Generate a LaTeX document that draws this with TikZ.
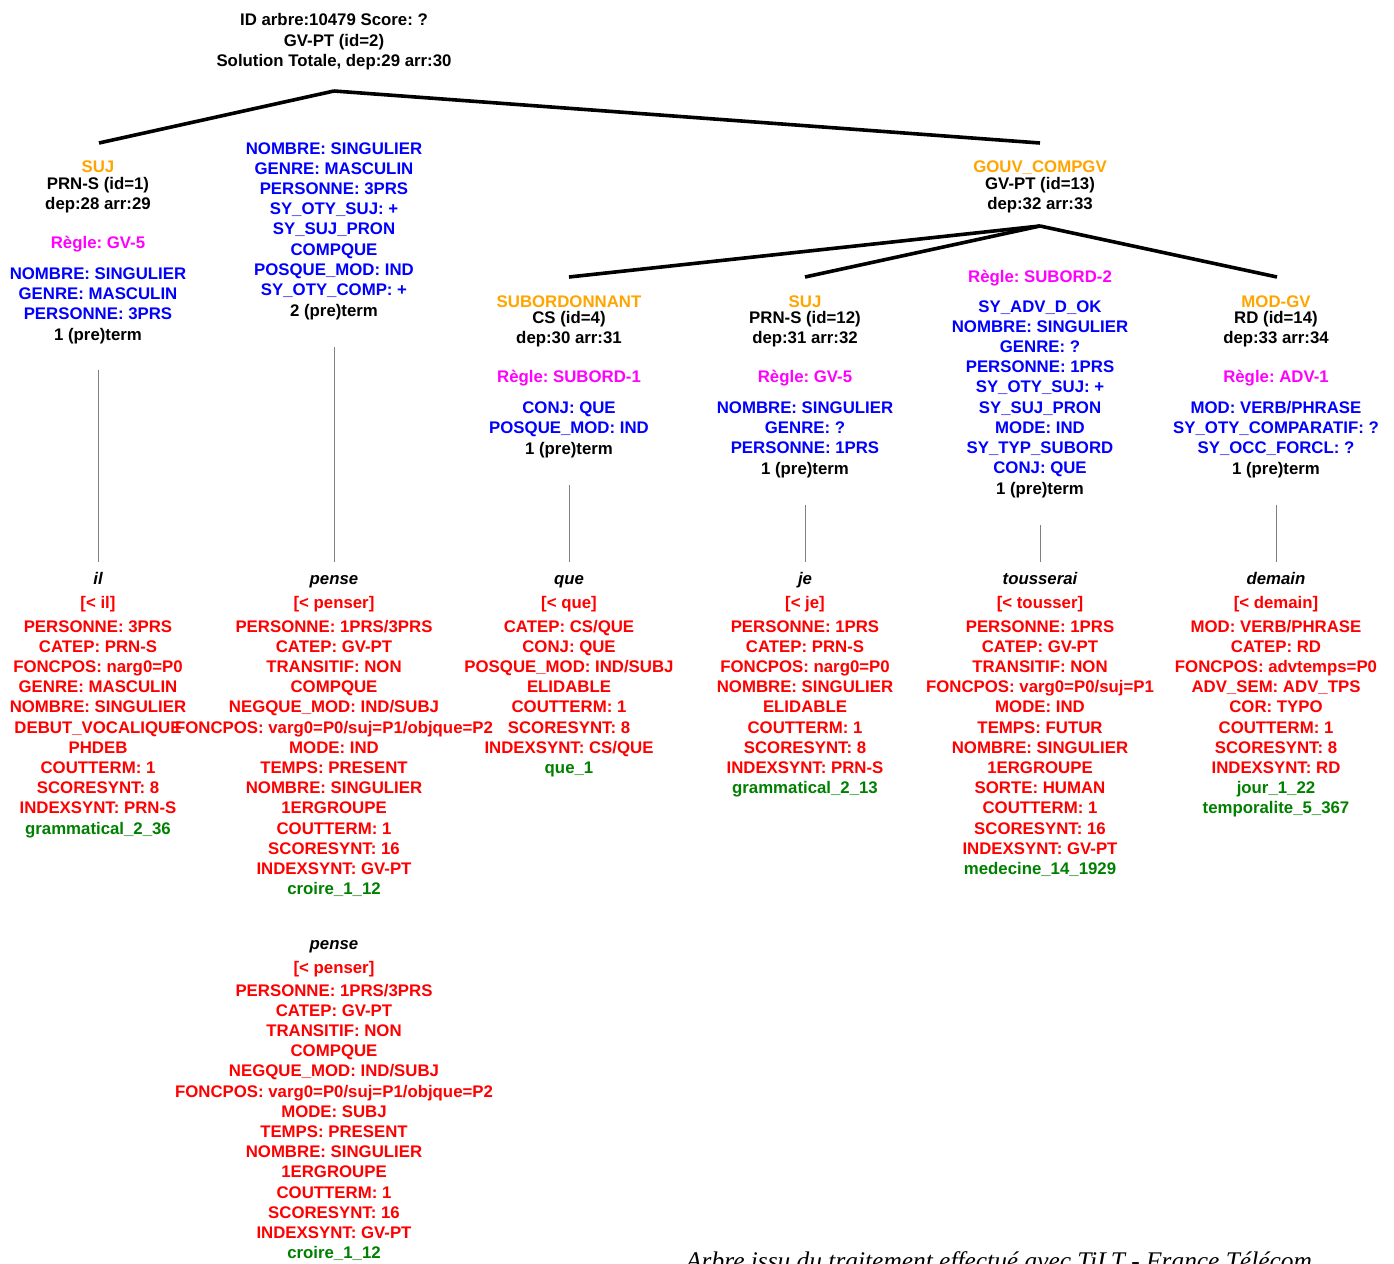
\documentclass[tikz,border=0pt]{standalone}
\usepackage{fontspec}
\setmainfont{Liberation Sans}
\newfontfamily\capfont{Liberation Serif}
\frenchspacing
\definecolor{orangeC}{RGB}{255,165,0}
\definecolor{magC}{RGB}{255,0,255}
\definecolor{blueC}{RGB}{0,0,255}
\definecolor{redC}{RGB}{255,0,0}
\definecolor{greenC}{RGB}{0,128,0}
\definecolor{grayC}{RGB}{128,128,128}
\tikzset{
  txt/.style={font=\fontsize{16.8}{20}\selectfont\bfseries\frenchspacing, inner sep=0pt, anchor=base},
  tblack/.style={txt, text=black},
  torange/.style={txt, text=orangeC},
  tmag/.style={txt, text=magC},
  tblue/.style={txt, text=blueC},
  tred/.style={txt, text=redC},
  tgreen/.style={txt, text=greenC},
  tword/.style={txt, font=\fontsize{16.8}{20}\selectfont\bfseries\itshape, text=black},
  treeline/.style={line width=3.6pt, black},
  gline/.style={line width=1pt, grayC},
}
% name, x, center y of first line, style, list
\newcommand\mylines[5]{\foreach \ltxt [count=\i from 0] in {#5} {\node[#4] (#1-\i) at (#2, #3+6+\i*20.2) {\ltxt};}}
\begin{document}
\begin{tikzpicture}[x=1pt,y=-1pt]
\useasboundingbox (0,0) rectangle (1394,1263);
\fill[white] (0,0) rectangle (1394,1263);

% ---------- root ----------
\mylines{root}{334}{20}{tblack}{ID arbre:10479 Score: ?, GV-PT (id=2), {Solution Totale, dep:29 arr:30}}
\mylines{rootf}{334}{148}{tblue}{NOMBRE: SINGULIER, GENRE: MASCULIN, PERSONNE: 3PRS, SY\_OTY\_SUJ: +, SY\_SUJ\_PRON, COMPQUE, POSQUE\_MOD: IND, SY\_OTY\_COMP: +}
\node[tblack] (rootpt) at (334,316) {2 (pre)term};

% ---------- SUJ id=1 ----------
\node[torange] (s1lab) at (98,172) {SUJ};
\mylines{s1h}{98}{183}{tblack}{PRN-S (id=1), dep:28 arr:29}
\node[tmag] (s1r) at (98,248) {Règle: GV-5};
\mylines{s1f}{98}{273}{tblue}{NOMBRE: SINGULIER, GENRE: MASCULIN, PERSONNE: 3PRS}
\node[tblack] (s1pt) at (98,340) {1 (pre)term};

% ---------- GOUV_COMPGV id=13 ----------
\node[torange] (g13lab) at (1040,172) {GOUV\_COMPGV};
\mylines{g13h}{1040}{183}{tblack}{GV-PT (id=13), dep:32 arr:33}
\node[tmag] (g13r) at (1040,282) {Règle: SUBORD-2};
\mylines{g13f}{1040}{306}{tblue}{SY\_ADV\_D\_OK, NOMBRE: SINGULIER, GENRE: ?, PERSONNE: 1PRS, SY\_OTY\_SUJ: +, SY\_SUJ\_PRON, MODE: IND, SY\_TYP\_SUBORD, CONJ: QUE}
\node[tblack] (g13pt) at (1040,494) {1 (pre)term};

% ---------- SUBORDONNANT id=4 ----------
\node[torange] (c4lab) at (569,307) {SUBORDONNANT};
\mylines{c4h}{569}{317}{tblack}{CS (id=4), dep:30 arr:31}
\node[tmag] (c4r) at (569,382) {Règle: SUBORD-1};
\mylines{c4f}{569}{407}{tblue}{CONJ: QUE, POSQUE\_MOD: IND}
\node[tblack] (c4pt) at (569,454) {1 (pre)term};

% ---------- SUJ id=12 ----------
\node[torange] (s12lab) at (805,307) {SUJ};
\mylines{s12h}{805}{317}{tblack}{PRN-S (id=12), dep:31 arr:32}
\node[tmag] (s12r) at (805,382) {Règle: GV-5};
\mylines{s12f}{805}{407}{tblue}{NOMBRE: SINGULIER, GENRE: ?, PERSONNE: 1PRS}
\node[tblack] (s12pt) at (805,474) {1 (pre)term};

% ---------- MOD-GV id=14 ----------
\node[torange] (m14lab) at (1276,307) {MOD-GV};
\mylines{m14h}{1276}{317}{tblack}{RD (id=14), dep:33 arr:34}
\node[tmag] (m14r) at (1276,382) {Règle: ADV-1};
\mylines{m14f}{1276}{407}{tblue}{MOD: VERB/PHRASE, SY\_OTY\_COMPARATIF: ?, SY\_OCC\_FORCL: ?}
\node[tblack] (m14pt) at (1276,474) {1 (pre)term};

% ---------- terminals ----------
\node[tword] (w1) at (98,584) {il};
\node[tred] (w1l) at (98,608) {[< il]};
\mylines{w1f}{98}{626}{tred}{PERSONNE: 3PRS, CATEP: PRN-S, FONCPOS: narg0=P0, GENRE: MASCULIN, NOMBRE: SINGULIER, DEBUT\_VOCALIQUE, PHDEB, COUTTERM: 1, SCORESYNT: 8, INDEXSYNT: PRN-S}
\node[tgreen] (w1g) at (98,834) {grammatical\_2\_36};

\node[tword] (w2) at (334,584) {pense};
\node[tred] (w2l) at (334,608) {[< penser]};
\mylines{w2f}{334}{626}{tred}{PERSONNE: 1PRS/3PRS, CATEP: GV-PT, TRANSITIF: NON, COMPQUE, NEGQUE\_MOD: IND/SUBJ, FONCPOS: varg0=P0/suj=P1/objque=P2, MODE: IND, TEMPS: PRESENT, NOMBRE: SINGULIER, 1ERGROUPE, COUTTERM: 1, SCORESYNT: 16, INDEXSYNT: GV-PT}
\node[tgreen] (w2g) at (334,894.6) {croire\_1\_12};

\node[tword] (w3) at (334,949) {pense};
\node[tred] (w3l) at (334,973) {[< penser]};
\mylines{w3f}{334}{990}{tred}{PERSONNE: 1PRS/3PRS, CATEP: GV-PT, TRANSITIF: NON, COMPQUE, NEGQUE\_MOD: IND/SUBJ, FONCPOS: varg0=P0/suj=P1/objque=P2, MODE: SUBJ, TEMPS: PRESENT, NOMBRE: SINGULIER, 1ERGROUPE, COUTTERM: 1, SCORESYNT: 16, INDEXSYNT: GV-PT}
\node[tgreen] (w3g) at (334,1258.6) {croire\_1\_12};

\node[tword] (w4) at (569,584) {que};
\node[tred] (w4l) at (569,608) {[< que]};
\mylines{w4f}{569}{626}{tred}{CATEP: CS/QUE, CONJ: QUE, POSQUE\_MOD: IND/SUBJ, ELIDABLE, COUTTERM: 1, SCORESYNT: 8, INDEXSYNT: CS/QUE}
\node[tgreen] (w4g) at (569,773.4) {que\_1};

\node[tword] (w5) at (805,584) {je};
\node[tred] (w5l) at (805,608) {[< je]};
\mylines{w5f}{805}{626}{tred}{PERSONNE: 1PRS, CATEP: PRN-S, FONCPOS: narg0=P0, NOMBRE: SINGULIER, ELIDABLE, COUTTERM: 1, SCORESYNT: 8, INDEXSYNT: PRN-S}
\node[tgreen] (w5g) at (805,793.6) {grammatical\_2\_13};

\node[tword] (w6) at (1040,584) {tousserai};
\node[tred] (w6l) at (1040,608) {[< tousser]};
\mylines{w6f}{1040}{626}{tred}{PERSONNE: 1PRS, CATEP: GV-PT, TRANSITIF: NON, FONCPOS: varg0=P0/suj=P1, MODE: IND, TEMPS: FUTUR, NOMBRE: SINGULIER, 1ERGROUPE, SORTE: HUMAN, COUTTERM: 1, SCORESYNT: 16, INDEXSYNT: GV-PT}
\node[tgreen] (w6g) at (1040,874.4) {medecine\_14\_1929};

\node[tword] (w7) at (1276,584) {demain};
\node[tred] (w7l) at (1276,608) {[< demain]};
\mylines{w7f}{1276}{626}{tred}{MOD: VERB/PHRASE, CATEP: RD, FONCPOS: advtemps=P0, ADV\_SEM: ADV\_TPS, COR: TYPO, COUTTERM: 1, SCORESYNT: 8, INDEXSYNT: RD}
\mylines{w7g}{1276}{787.6}{tgreen}{jour\_1\_22, temporalite\_5\_367}

% ---------- tree connectors ----------
\coordinate (rootB) at (334,91);
\coordinate (s1T) at (99,143);
\coordinate (g13T) at (1040,143);
\coordinate (g13B) at (1040,226);
\coordinate (c4T) at (569,277);
\coordinate (s12T) at (805,277);
\coordinate (m14T) at (1277,277);
\draw[treeline] (rootB) -- (s1T);
\draw[treeline] (rootB) -- (g13T);
\draw[treeline] (g13B) -- (c4T);
\draw[treeline] (g13B) -- (s12T);
\draw[treeline] (g13B) -- (m14T);

% ---------- lexical links ----------
\coordinate (l1a) at (98,370);   \coordinate (l1b) at (98,562);
\coordinate (l2a) at (334,347);  \coordinate (l2b) at (334,562);
\coordinate (l3a) at (569,485);  \coordinate (l3b) at (569,562);
\coordinate (l4a) at (805,505);  \coordinate (l4b) at (805,562);
\coordinate (l5a) at (1040,525); \coordinate (l5b) at (1040,562);
\coordinate (l6a) at (1276,505); \coordinate (l6b) at (1276,562);
\draw[gline] (l1a) -- (l1b);
\draw[gline] (l2a) -- (l2b);
\draw[gline] (l3a) -- (l3b);
\draw[gline] (l4a) -- (l4b);
\draw[gline] (l5a) -- (l5b);
\draw[gline] (l6a) -- (l6b);

% ---------- caption (cut by the lower edge, as in the reference) ----------
\begin{scope}
\clip (0,0) rectangle (1394,1263);
\node[font=\capfont\itshape\fontsize{25.4}{30}\selectfont, anchor=base west, inner sep=0pt] (caption) at (686,1269) {Arbre issu du traitement effectué avec TiLT - France Télécom};
\end{scope}
\end{tikzpicture}
\end{document}
